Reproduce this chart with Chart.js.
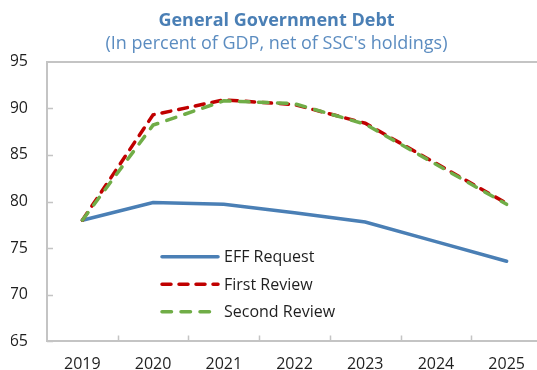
<!DOCTYPE html>
<html>
<head>
<meta charset="utf-8">
<script src="https://cdn.jsdelivr.net/npm/chart.js@4/dist/chart.umd.min.js"></script>
<style>
  html, body { margin: 0; padding: 0; background: #fff; overflow: hidden; }
  #wrap { width: 545px; height: 370px; }
</style>
</head>
<body>
<div id="wrap"><canvas id="debt_chart" width="545" height="370"></canvas></div>
<script>
const years = ['2019', '2020', '2021', '2022', '2023', '2024', '2025'];
const effRequest = [78.0, 79.9, 79.7, 78.8, 77.8, 75.7, 73.6];
const firstReview = [78.0, 89.3, 90.9, 90.4, 88.4, 84.1, 79.8];
const secondReview = [78.0, 88.2, 90.8, 90.5, 88.3, 84.0, 79.7];
const yTicks = [65, 70, 75, 80, 85, 90, 95];

const FONT = "'Open Sans', 'Noto Sans', sans-serif";
const AXIS_GREY = '#c4c4c4';
const TEXT = '#1f1f1f';

// short tick marks pointing into the plot, like the source spreadsheet chart
const innerTicks = {
    id: 'innerTicks',
    beforeDatasetsDraw(chart) {
        const { ctx, chartArea, scales } = chart;
        ctx.save();
        ctx.strokeStyle = AXIS_GREY;
        ctx.lineWidth = 1.5;
        ctx.beginPath();
        yTicks.slice(0, -1).forEach(v => {
            const y = Math.round(scales.y.getPixelForValue(v)) + 0.5;
            ctx.moveTo(chartArea.left, y);
            ctx.lineTo(chartArea.left + 6, y);
        });
        for (let i = 0; i < years.length - 1; i++) {
            const x = Math.round((scales.x.getPixelForValue(i) + scales.x.getPixelForValue(i + 1)) / 2) + 0.5;
            ctx.moveTo(x, chartArea.bottom);
            ctx.lineTo(x, chartArea.bottom - 6);
        }
        ctx.stroke();
        ctx.restore();
    }
};

// legend sits inside the plot, below the lines
const insideLegend = {
    id: 'insideLegend',
    afterDatasetsDraw(chart) {
        const { ctx, chartArea } = chart;
        const x0 = chartArea.left + 115;
        const x1 = chartArea.left + 171;
        const tx = chartArea.left + 177;
        let y = chartArea.top + 195;
        ctx.save();
        ctx.font = '16px ' + FONT;
        ctx.textBaseline = 'middle';
        ctx.fillStyle = TEXT;
        chart.data.datasets.forEach(ds => {
            ctx.beginPath();
            ctx.strokeStyle = ds.borderColor;
            ctx.lineWidth = ds.borderWidth;
            ctx.lineCap = ds.borderCapStyle || 'butt';
            ctx.setLineDash(ds.borderDash || []);
            ctx.moveTo(x0, y);
            ctx.lineTo(x1, y);
            ctx.stroke();
            ctx.fillText(ds.label, tx, y + 1);
            y += 27.5;
        });
        ctx.restore();
    }
};

new Chart(document.getElementById('debt_chart').getContext('2d'), {
    type: 'line',
    data: {
        labels: years,
        datasets: [{
            label: 'EFF Request',
            data: effRequest,
            borderColor: '#4a7fb5',
            borderWidth: 3.5,
            borderCapStyle: 'round',
            pointRadius: 0,
            order: 2
        }, {
            label: 'First Review',
            data: firstReview,
            borderColor: '#c00000',
            borderWidth: 3.5,
            borderDash: [9, 8],
            borderCapStyle: 'round',
            pointRadius: 0,
            order: 1
        }, {
            label: 'Second Review',
            data: secondReview,
            borderColor: '#70ad47',
            borderWidth: 3.5,
            borderDash: [9.5, 9.5],
            borderCapStyle: 'round',
            pointRadius: 0,
            order: 0
        }]
    },
    options: {
        responsive: false,
        animation: false,
        layout: { padding: { left: 11, right: 3, top: 0, bottom: 0 } },
        plugins: {
            legend: { display: false },
            tooltip: { enabled: false },
            title: {
                display: true,
                text: 'General Government Debt',
                color: '#4a7fb5',
                font: { family: FONT, size: 18, weight: 'bold' },
                padding: { top: 10, bottom: 1.5 }
            },
            subtitle: {
                display: true,
                text: "(In percent of GDP, net of SSC's holdings)",
                color: '#5b8cc0',
                font: { family: FONT, size: 18 },
                padding: { top: 0, bottom: 7 }
            }
        },
        scales: {
            x: {
                offset: true,
                grid: { display: false },
                border: { color: AXIS_GREY, width: 2 },
                afterFit: scale => { scale.height = 28; },
                ticks: {
                    color: TEXT,
                    font: { family: FONT, size: 16, lineHeight: 1 },
                    padding: 7,
                    maxRotation: 0
                }
            },
            y: {
                min: 65,
                max: 95,
                afterBuildTicks: scale => { scale.ticks = yTicks.map(v => ({ value: v })); },
                afterFit: scale => { scale.width = 36; },
                grid: {
                    drawTicks: false,
                    color: c => c.tick && c.tick.value === 95 ? AXIS_GREY : 'rgba(0,0,0,0)',
                    lineWidth: 2
                },
                border: { color: AXIS_GREY, width: 2 },
                ticks: {
                    color: TEXT,
                    font: { family: FONT, size: 16 },
                    padding: 19
                }
            }
        }
    },
    plugins: [innerTicks, insideLegend]
});
</script>
</body>
</html>
